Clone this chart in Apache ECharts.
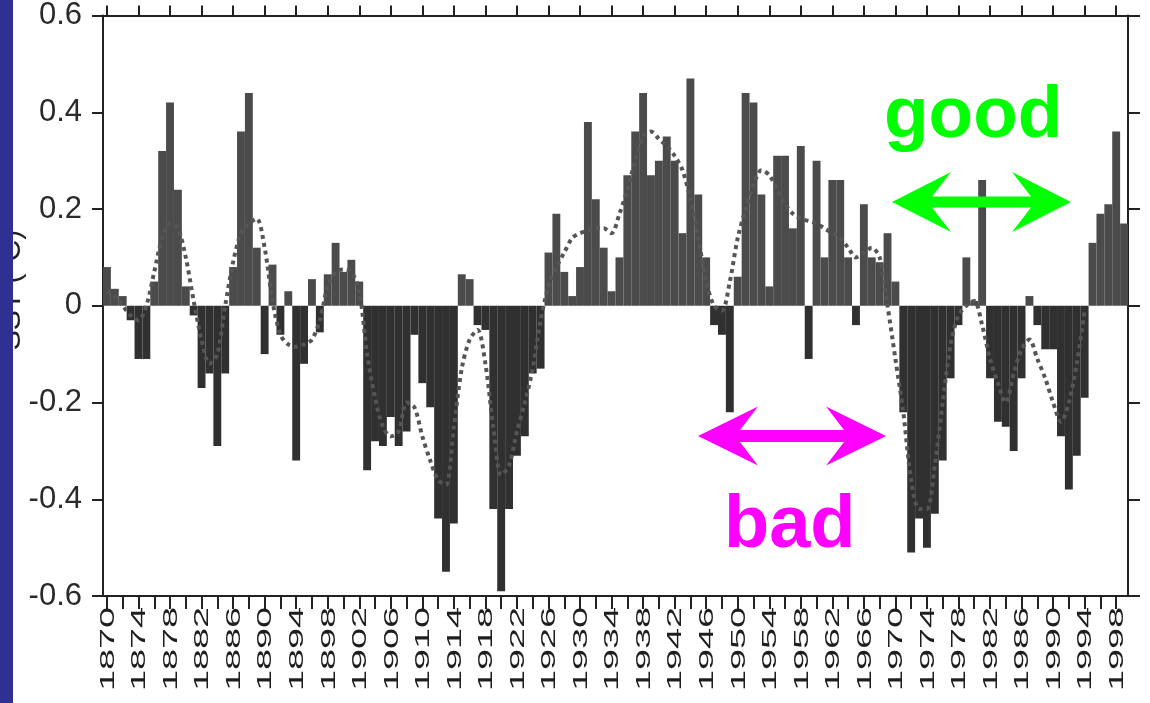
<!DOCTYPE html>
<html>
<head>
<meta charset="utf-8">
<script src="https://cdn.jsdelivr.net/npm/echarts@6/dist/echarts.min.js"></script>
<style>
html,body{margin:0;padding:0;background:#fff;}
#chart{width:1150px;height:703px;}
</style>
</head>
<body>
<div id="chart"></div>
<script>
// categories: years 1870..1999
const years = [];
for (let y = 1870; y <= 1999; y++) years.push(String(y));

// x tick labels (every 4 years)
const tickLabels = ['1870','1874','1878','1882','1886','1890','1894','1898','1902','1906','1910',
  '1914','1918','1922','1926','1930','1934','1938','1942','1946','1950','1954','1958','1962',
  '1966','1970','1974','1978','1982','1986','1990','1994','1998'];

// annual bar values 1870..1999
const anomaly = [
  0.08, 0.035, 0.02, -0.03, -0.11, -0.11, 0.05, 0.32, 0.42, 0.24,
  0.04, -0.02, -0.17, -0.14, -0.29, -0.14, 0.08, 0.36, 0.44, 0.12,
  -0.10, 0.085, -0.06, 0.03, -0.32, -0.12, 0.055, -0.055, 0.065, 0.13,
  0.07, 0.095, 0.05, -0.34, -0.28, -0.29, -0.23, -0.29, -0.26, -0.06,
  -0.16, -0.21, -0.44, -0.55, -0.45, 0.065, 0.055, -0.04, -0.05, -0.42,
  -0.59, -0.42, -0.31, -0.27, -0.14, -0.13, 0.11, 0.19, 0.07, 0.02,
  0.08, 0.38, 0.22, 0.12, 0.03, 0.10, 0.27, 0.36, 0.44, 0.27,
  0.30, 0.35, 0.30, 0.15, 0.47, 0.23, 0.10, -0.04, -0.06, -0.22,
  0.06, 0.44, 0.42, 0.23, 0.04, 0.31, 0.31, 0.16, 0.33, -0.11,
  0.30, 0.10, 0.26, 0.26, 0.10, -0.04, 0.21, 0.10, 0.09, 0.15,
  0.05, -0.22, -0.51, -0.44, -0.50, -0.43, -0.32, -0.15, -0.04, 0.10,
  0.01, 0.26, -0.15, -0.24, -0.25, -0.30, -0.15, 0.02, -0.04, -0.09,
  -0.09, -0.27, -0.38, -0.31, -0.19, 0.13, 0.19, 0.21, 0.36, 0.17
];

// dotted smoothed curve 1870..1999 (ends 1994)
const smoothed = [
  0.03, 0.02, 0.0, -0.02, -0.03, 0.0, 0.07, 0.14, 0.17, 0.16,
  0.10, 0.01, -0.07, -0.12, -0.10, 0.0, 0.09, 0.15, 0.17, 0.18,
  0.12, 0.01, -0.06, -0.08, -0.085, -0.08, -0.07, -0.03, 0.04, 0.07,
  0.075, 0.07, 0.03, -0.10, -0.19, -0.25, -0.27, -0.26, -0.20, -0.21,
  -0.27, -0.32, -0.36, -0.37, -0.25, -0.13, -0.07, -0.05, -0.12, -0.25,
  -0.35, -0.33, -0.26, -0.20, -0.13, -0.03, 0.04, 0.08, 0.11, 0.14,
  0.15, 0.155, 0.16, 0.16, 0.15, 0.19, 0.24, 0.30, 0.35, 0.36,
  0.345, 0.33, 0.31, 0.28, 0.22, 0.14, 0.05, 0.0, -0.01, 0.05,
  0.14, 0.20, 0.25, 0.28, 0.27, 0.24, 0.21, 0.19, 0.18, 0.175,
  0.17, 0.16, 0.15, 0.14, 0.12, 0.10, 0.11, 0.12, 0.10, 0.0,
  -0.11, -0.22, -0.36, -0.42, -0.42, -0.33, -0.20, -0.08, -0.02, 0.0,
  0.01, -0.04, -0.11, -0.16, -0.20, -0.14, -0.09, -0.07, -0.11, -0.15,
  -0.20, -0.24, -0.20, -0.12, -0.01, null, null, null, null, null
];

function arrowPoints(x1, x2, y, headLen, headHalf, notch, shaftHalf) {
  return [
    [x1, y],
    [x1 + headLen, y - headHalf],
    [x1 + notch, y - shaftHalf],
    [x2 - notch, y - shaftHalf],
    [x2 - headLen, y - headHalf],
    [x2, y],
    [x2 - headLen, y + headHalf],
    [x2 - notch, y + shaftHalf],
    [x1 + notch, y + shaftHalf],
    [x1 + headLen, y + headHalf]
  ];
}

const FONT = '"Liberation Sans", Arial, sans-serif';
const chart = echarts.init(document.getElementById('chart'));

chart.setOption({
  animation: false,
  backgroundColor: '#ffffff',
  grid: { left: 103, right: 22, top: 9, bottom: 107, containLabel: false },
  xAxis: [
    {
      type: 'category',
      data: years,
      position: 'bottom',
      boundaryGap: true,
      axisLine: { show: true, onZero: false, lineStyle: { color: '#222', width: 2 } },
      axisTick: {
        show: true, alignWithLabel: true, length: 13,
        interval: function (i) { return i % 2 === 0; },
        lineStyle: { color: '#222', width: 2 }
      },
      axisLabel: { show: false },
      splitLine: { show: false }
    },
    {
      type: 'category',
      data: years,
      position: 'top',
      boundaryGap: true,
      axisLine: { show: true, onZero: false, lineStyle: { color: '#222', width: 2 } },
      axisTick: {
        show: true, alignWithLabel: true, length: 10,
        interval: function (i) { return i % 4 === 0; },
        lineStyle: { color: '#222', width: 2 }
      },
      axisLabel: { show: false },
      splitLine: { show: false }
    }
  ],
  yAxis: [
    {
      type: 'value',
      min: -0.6, max: 0.6, interval: 0.2,
      position: 'left',
      axisLine: { show: true, onZero: false, lineStyle: { color: '#222', width: 2 } },
      axisTick: { show: true, length: 11, lineStyle: { color: '#222', width: 2 } },
      axisLabel: {
        show: true, margin: 21, fontSize: 31, fontFamily: FONT, color: '#2a2a2a',
        formatter: function (v) {
          const r = Math.round(v * 10) / 10;
          return r === 0 ? '0' : r.toFixed(1);
        }
      },
      splitLine: { show: false }
    },
    {
      type: 'value',
      min: -0.6, max: 0.6, interval: 0.2,
      position: 'right',
      axisLine: { show: true, onZero: false, lineStyle: { color: '#222', width: 2 } },
      axisTick: { show: true, length: 12, lineStyle: { color: '#222', width: 2 } },
      axisLabel: { show: false },
      splitLine: { show: false }
    }
  ],
  series: [
    {
      type: 'bar',
      data: anomaly,
      xAxisIndex: 0, yAxisIndex: 0,
      barCategoryGap: '0%',
      barGap: '0%',
      itemStyle: {
        color: function (p) { return p.value >= 0 ? '#4b4b4b' : '#303030'; }
      },
      z: 2
    },
    {
      type: 'line',
      data: smoothed,
      xAxisIndex: 0, yAxisIndex: 0,
      symbol: 'none',
      smooth: 0.3,
      connectNulls: false,
      lineStyle: { type: [4, 4], width: 4, color: '#555555' },
      z: 3
    }
  ]
});

// x tick labels: stretched rotated text placed through the category axis scale
const axisY = chart.convertToPixel({ yAxisIndex: 0 }, -0.6);
const labelGraphics = tickLabels.map(function (lab) {
  const px = chart.convertToPixel({ xAxisIndex: 0 }, lab);
  return {
    type: 'text', z: 5,
    x: px + 1, y: axisY + 11,
    rotation: Math.PI / 2,
    scaleX: 1.8, scaleY: 1,
    style: {
      text: lab, font: '21px ' + FONT, fill: '#1e1e1e',
      textAlign: 'right', textVerticalAlign: 'middle'
    }
  };
});

chart.setOption({
  graphic: labelGraphics.concat([
    {
      type: 'text', z: 10,
      x: 12, y: 290, rotation: Math.PI / 2,
      style: {
        text: 'SST (°C)', font: '30px ' + FONT, fill: '#222',
        textAlign: 'center', textVerticalAlign: 'middle'
      }
    },
    {
      type: 'rect', z: 20,
      shape: { x: 0, y: 0, width: 13, height: 703 },
      style: { fill: '#2e3192' }
    },
    {
      type: 'polygon', z: 30,
      shape: { points: arrowPoints(892, 1071, 202, 59, 30, 40, 5.5) },
      style: { fill: '#00ff00' }
    },
    {
      type: 'polygon', z: 30,
      shape: { points: arrowPoints(698, 886, 436, 60, 29.5, 42, 6) },
      style: { fill: '#ff00ff' }
    },
    {
      type: 'text', z: 30,
      x: 884, y: 117,
      style: {
        text: 'good', font: 'bold 73px ' + FONT, fill: '#00ff00',
        textAlign: 'left', textVerticalAlign: 'middle'
      }
    },
    {
      type: 'text', z: 30,
      x: 724, y: 527,
      style: {
        text: 'bad', font: 'bold 74px ' + FONT, fill: '#ff00ff',
        textAlign: 'left', textVerticalAlign: 'middle'
      }
    }
  ])
});
</script>
</body>
</html>
